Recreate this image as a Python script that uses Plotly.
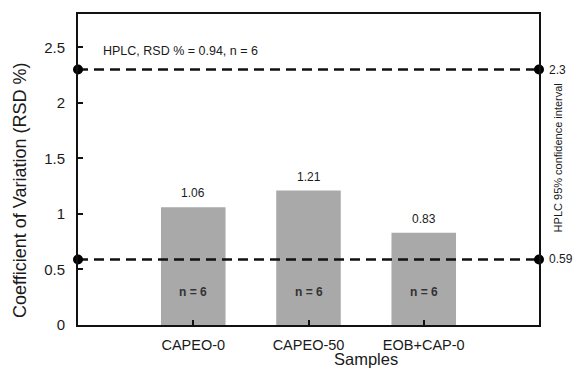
import plotly.graph_objects as go

samples = ["CAPEO-0", "CAPEO-50", "EOB+CAP-0"]
rsd = [1.06, 1.21, 0.83]
bar_labels = ["1.06", "1.21", "0.83"]
n_labels = ["n = 6", "n = 6", "n = 6"]
ci_upper = 2.3
ci_lower = 0.59
y_ticks = [0, 0.5, 1, 1.5, 2, 2.5]
y_ticktext = ["0", "0.5", "1", "1.5", "2", "2.5"]

FONT = "Liberation Sans, Arial, sans-serif"
TXT = "#1a1a1a"

fig = go.Figure()
x_pos = list(range(len(samples)))
fig.add_trace(go.Bar(
    x=x_pos, y=rsd, width=0.56,
    marker=dict(color="#a9a9a9", line=dict(width=0)),
    showlegend=False, hoverinfo="skip",
))

for val in (ci_upper, ci_lower):
    fig.add_trace(go.Scatter(
        x=[-1, 3], y=[val, val], mode="lines+markers",
        line=dict(color="#111111", width=2.6, dash="10px,6px"),
        marker=dict(color="#000000", size=10),
        cliponaxis=False, showlegend=False, hoverinfo="skip",
    ))

annotations = []
for i, (v, t) in enumerate(zip(rsd, bar_labels)):
    annotations.append(dict(x=i, y=v, text=t, showarrow=False, yshift=14,
                            font=dict(family=FONT, size=12, color=TXT)))
    annotations.append(dict(x=i, y=0.3, text="<b>" + n_labels[i] + "</b>", showarrow=False,
                            font=dict(family=FONT, size=12, color="#333333")))
annotations.append(dict(x=-0.8, y=2.47, xanchor="left", text="HPLC, RSD % = 0.94, n = 6",
                        showarrow=False, font=dict(family=FONT, size=12.5, color=TXT)))
for val, t in ((ci_upper, "2.3"), (ci_lower, "0.59")):
    annotations.append(dict(x=1, xref="paper", y=val, text=t, xanchor="left", xshift=8,
                            showarrow=False, font=dict(family=FONT, size=12, color=TXT)))
annotations.append(dict(x=1, xref="paper", xanchor="center", xshift=19, y=1.5, yref="y",
                        yanchor="middle",
                        text="HPLC 95% confidence interval", textangle=-90,
                        showarrow=False, font=dict(family=FONT, size=11, color=TXT)))
annotations.append(dict(x=1.5, y=0, yref="paper", yanchor="middle", yshift=-34,
                        text="Samples",
                        showarrow=False, font=dict(family=FONT, size=16.5, color=TXT)))
annotations.append(dict(x=0, xref="paper", xanchor="center", xshift=-58,
                        y=0.431, yref="paper", yanchor="middle",
                        text="Coefficient of Variation (RSD %)", textangle=-90,
                        showarrow=False, font=dict(family=FONT, size=18, color=TXT)))

fig.update_layout(
    width=575, height=368,
    margin=dict(l=78, r=36, t=12, b=43),
    paper_bgcolor="white", plot_bgcolor="white",
    font=dict(family=FONT, color=TXT),
    annotations=annotations,
    xaxis=dict(
        range=[-1, 3], tickvals=x_pos, ticktext=samples,
        ticks="inside", ticklen=5, tickwidth=2, tickcolor="#111",
        showline=True, linecolor="#111", linewidth=2, mirror=True,
        showgrid=False, zeroline=False, ticklabelstandoff=6,
        tickfont=dict(family=FONT, size=14.5, color=TXT),
    ),
    yaxis=dict(
        range=[0, 2.8], tickvals=y_ticks, ticktext=y_ticktext,
        ticks="inside", ticklen=5, tickwidth=2, tickcolor="#111",
        showline=True, linecolor="#111", linewidth=2, mirror=True,
        showgrid=False, zeroline=False, ticklabelstandoff=8,
        tickfont=dict(family=FONT, size=15, color=TXT),
    ),
)

fig.write_html("out.html")
